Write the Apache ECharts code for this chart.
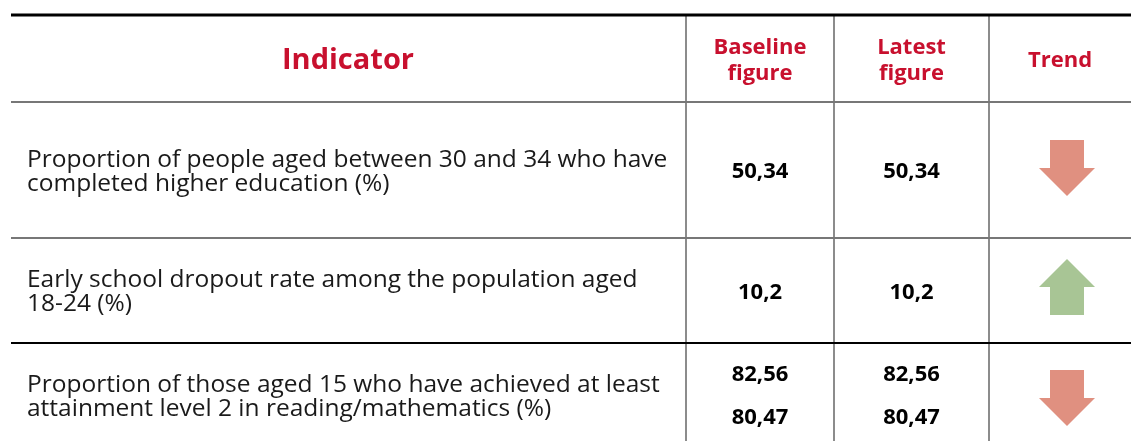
<!DOCTYPE html>
<html>
<head>
<meta charset="utf-8">
<script src="https://cdn.jsdelivr.net/npm/echarts@6/dist/echarts.min.js"></script>
<style>
  html, body { margin: 0; padding: 0; background: #fff; }
  #main { width: 1131px; height: 441px; }
</style>
</head>
<body>
<div id="main"></div>
<script>
  var headers = ["Indicator", "Baseline\nfigure", "Latest\nfigure", "Trend"];
  var indicators = [
    "Proportion of people aged between 30 and 34 who have\ncompleted higher education (%)",
    "Early school dropout rate among the population aged\n18-24 (%)",
    "Proportion of those aged 15 who have achieved at least\nattainment level 2 in reading/mathematics (%)"
  ];
  var baseline = [["50,34"], ["10,2"], ["82,56", "80,47"]];
  var latest = [["50,34"], ["10,2"], ["82,56", "80,47"]];
  var trend = ["down", "up", "down"];

  var red = "#C8102E";
  var font = "'Open Sans', 'Noto Sans', sans-serif";
  var colX = [11, 686, 834, 989, 1131];
  var rowBorder = [
    { y: 15, color: "#000", w: 3 },
    { y: 102, color: "#777", w: 2 },
    { y: 238, color: "#777", w: 2 },
    { y: 343, color: "#000", w: 2 }
  ];
  var textY = [172, 292, 397];
  var numY = [[172], [293], [375, 418]];
  var arrowTop = [140, 259, 370];

  var chart = echarts.init(document.getElementById("main"), null, { renderer: "canvas" });
  var els = [];

  rowBorder.forEach(function (b) {
    els.push({ type: "line", shape: { x1: colX[0], y1: b.y, x2: 1131, y2: b.y }, style: { stroke: b.color, lineWidth: b.w }, z: 5 });
  });
  [1, 2, 3].forEach(function (i) {
    els.push({ type: "line", shape: { x1: colX[i], y1: 15, x2: colX[i], y2: 441 }, style: { stroke: "#666", lineWidth: 1.5 }, z: 4 });
  });

  // header
  headers.forEach(function (h, i) {
    var cx = i === 0 ? 348 : (colX[i] + colX[i + 1]) / 2;
    els.push({
      type: "text", x: cx, y: 61,
      style: {
        text: h, fill: red, font: "bold " + (i === 0 ? 29 : 22) + "px " + font,
        align: "center", verticalAlign: "middle", lineHeight: i === 0 ? 34 : 26
      }
    });
  });

  // body rows
  indicators.forEach(function (t, r) {
    els.push({
      type: "text", x: 27, y: textY[r],
      style: { text: t, fill: "#1a1a1a", font: "24.5px " + font, align: "left", verticalAlign: "middle", lineHeight: 24 }
    });
    [baseline, latest].forEach(function (arr, c) {
      var cx = (colX[c + 1] + colX[c + 2]) / 2;
      arr[r].forEach(function (v, k) {
        els.push({
          type: "text", x: cx, y: numY[r][k],
          style: { text: v, fill: "#000", font: "bold 22px " + font, align: "center", verticalAlign: "middle" }
        });
      });
    });
    // trend arrow
    var ax = 1067;
    var top = arrowTop[r];
    var pts;
    if (trend[r] === "down") {
      pts = [[ax - 17, top], [ax + 17, top], [ax + 17, top + 28], [ax + 28, top + 28], [ax, top + 56], [ax - 28, top + 28], [ax - 17, top + 28]];
    } else {
      pts = [[ax, top], [ax + 28, top + 28], [ax + 17, top + 28], [ax + 17, top + 56], [ax - 17, top + 56], [ax - 17, top + 28], [ax - 28, top + 28]];
    }
    els.push({
      type: "polygon", shape: { points: pts },
      style: { fill: trend[r] === "down" ? "#E09080" : "#A8C595" }
    });
  });

  var option = {
    backgroundColor: "#fff",
    animation: false,
    graphic: { elements: els }
  };
  option && chart.setOption(option);
</script>
</body>
</html>
